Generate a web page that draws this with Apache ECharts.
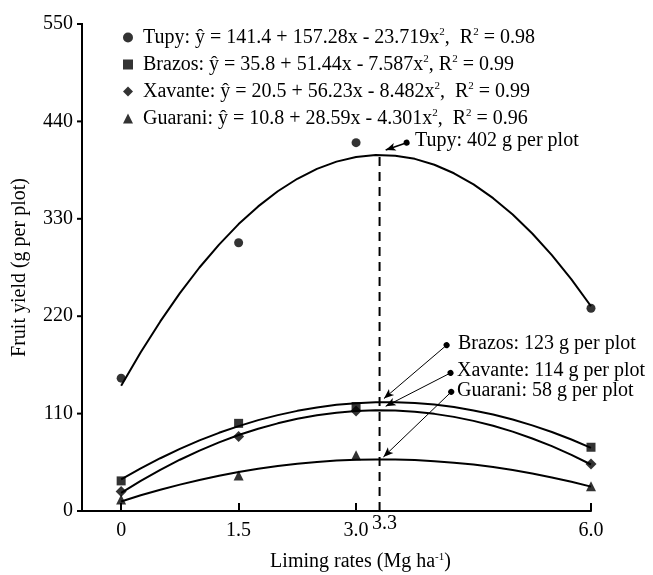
<!DOCTYPE html>
<html><head><meta charset="utf-8">
<script src="https://cdn.jsdelivr.net/npm/echarts@6/dist/echarts.min.js"></script>
<style>html,body{margin:0;padding:0;background:#fff;}#c{width:653px;height:575px;}</style>
</head><body><div id="c"></div>
<script>
// ---- data ----
const cultivars = ['Tupy', 'Brazos', 'Xavante', 'Guarani'];
const limingRates = [0, 1.5, 3.0, 6.0];
const tupyObs = [150, 303, 416, 229];
const brazosObs = [34, 99, 118, 72];
const xavanteObs = [22, 84, 113, 53];
const guaraniObs = [13, 40, 63, 28];
// fitted curves read along x = 0, 0.25, ..., 6
const curveX = [0, 0.25, 0.5, 0.75, 1, 1.25, 1.5, 1.75, 2, 2.25, 2.5, 2.75, 3, 3.25, 3.5, 3.75, 4, 4.25, 4.5, 4.75, 5, 5.25, 5.5, 5.75, 6];
const tupyFit = [141.4, 179.2, 214.1, 246.0, 275.0, 300.9, 324.0, 344.0, 361.1, 375.2, 386.4, 394.6, 399.8, 402.0, 401.3, 397.7, 391.0, 381.4, 368.9, 353.3, 334.8, 313.4, 288.9, 261.6, 231.2];
const brazosFit = [35.8, 48.2, 59.6, 70.1, 79.7, 88.3, 95.9, 102.6, 108.3, 113.1, 117.0, 119.9, 121.8, 122.8, 122.9, 122.0, 120.2, 117.4, 113.6, 109.0, 103.3, 96.7, 89.2, 80.7, 71.3];
const xavanteFit = [20.5, 34.0, 46.5, 57.9, 68.2, 77.5, 85.8, 92.9, 99.0, 104.1, 108.1, 111.0, 112.9, 113.7, 113.4, 112.1, 109.7, 106.3, 101.8, 96.2, 89.6, 81.9, 73.2, 63.4, 52.5];
const guaraniFit = [10.8, 17.7, 24.0, 29.8, 35.1, 39.8, 44.0, 47.7, 50.8, 53.4, 55.4, 56.9, 57.9, 58.3, 58.2, 57.5, 56.3, 54.6, 52.4, 49.6, 46.2, 42.4, 37.9, 33.0, 27.5];
const equations = [
  'Tupy: ŷ = 141.4 + 157.28x - 23.719x{s|2},  R{s|2} = 0.98',
  'Brazos: ŷ = 35.8 + 51.44x - 7.587x{s|2}, R{s|2} = 0.99',
  'Xavante: ŷ = 20.5 + 56.23x - 8.482x{s|2},  R{s|2} = 0.99',
  'Guarani: ŷ = 10.8 + 28.59x - 4.301x{s|2},  R{s|2} = 0.96'
];
const optimumRate = 3.3;
const peakValues = [402, 123, 114, 58];
const xTickValues = [0, 1.5, 3.0, 6.0];
const xTickLabels = ['0', '1.5', '3.0', '6.0'];
const yTicks = [0, 110, 220, 330, 440, 550];
const xRange = [-0.5, 6];
// annotation arrows: [startX, startY, endX, endY] in data units
const arrowTupy = [3.646, 416, 3.378, 407.6];
const arrowBrazos = [4.156, 187.3, 3.356, 127.0];
const arrowXavante = [4.206, 155.9, 3.378, 118.3];
const arrowGuarani = [4.215, 134.5, 3.349, 61.0];

// ---- build ----
const FONT = 'Liberation Serif';
const symbols = ['circle', 'rect', 'diamond', 'triangle'];
const symSizes = [9, 9, 11, 10];
const obs = [tupyObs, brazosObs, xavanteObs, guaraniObs];
const fits = [tupyFit, brazosFit, xavanteFit, guaraniFit];
const series = [];
cultivars.forEach((c, i) => {
  series.push({
    name: c + ' fit', type: 'line', smooth: false, showSymbol: false, silent: true,
    data: curveX.map((x, k) => [x, fits[i][k]]),
    lineStyle: { color: '#000', width: 2, join: 'round' }, itemStyle: { color: '#000' }, z: 2
  });
  series.push({
    name: c, type: 'scatter', symbol: symbols[i], symbolSize: symSizes[i],
    data: limingRates.map((x, k) => [x, obs[i][k]]),
    itemStyle: { color: '#000' }, z: 3
  });
});
const arrows = [arrowTupy, arrowBrazos, arrowXavante, arrowGuarani];
series.push({
  name: 'optimum', type: 'line', showSymbol: false, silent: true,
  data: [[optimumRate, 0], [optimumRate, peakValues[0]]],
  lineStyle: { color: '#000', width: 2, type: [9, 6] },
  markLine: {
    silent: true, animation: false,
    label: { show: false },
    data: arrows.map((a, i) => [
      { coord: [a[0], a[1]], symbol: 'circle', symbolSize: 6, lineStyle: { color: '#000', width: i === 0 ? 1.6 : 1, type: 'solid' } },
      { coord: [a[2], a[3]], symbol: 'arrow', symbolSize: [6, 10] }
    ])
  }
});
// y-axis line and outward ticks, drawn through the cartesian coordinate system
series.push({
  name: 'yAxisLine', type: 'custom', silent: true, clip: false, z: 5,
  data: yTicks.map(v => [xRange[0], v]),
  renderItem: (params, api) => {
    const p = api.coord([api.value(0), api.value(1)]);
    const children = [{
      type: 'line', shape: { x1: p[0] - 5, y1: p[1], x2: p[0], y2: p[1] },
      style: { stroke: '#000', lineWidth: 2 }
    }];
    if (params.dataIndex === 0) {
      const top = api.coord([xRange[0], yTicks[yTicks.length - 1]]);
      children.push({ type: 'line', shape: { x1: p[0], y1: p[1] + 1, x2: top[0], y2: top[1] - 1 },
        style: { stroke: '#000', lineWidth: 2 } });
    }
    return { type: 'group', children };
  }
});

const chart = echarts.init(document.getElementById('c'), null, { renderer: 'canvas' });
const axisText = { fontFamily: FONT, fontSize: 20, color: '#000' };
chart.setOption({
  animation: false,
  backgroundColor: '#fff',
  grid: { left: 82, right: 62, top: 24, bottom: 64, containLabel: false, outerBoundsMode: 'none' },
  legend: {
    orient: 'vertical', left: 118, top: 22, itemGap: 6,
    itemWidth: 10, itemHeight: 10,
    data: cultivars.map((c, i) => ({ name: c, icon: symbols[i] })),
    formatter: name => equations[cultivars.indexOf(name)],
    textStyle: {
      fontFamily: FONT, fontSize: 20, color: '#000', lineHeight: 21, padding: [0, 0, 0, 5],
      rich: { s: { fontFamily: FONT, fontSize: 11, lineHeight: 12, verticalAlign: 'top', color: '#000' } }
    },
    selectedMode: false
  },
  xAxis: {
    type: 'value', min: xRange[0], max: xRange[1],
    name: 'Liming rates (Mg ha{s|-1})', nameLocation: 'middle', nameGap: 41,
    nameTextStyle: Object.assign({}, axisText, { padding: [0, 0, 0, 48],
      rich: { s: { fontFamily: FONT, fontSize: 11, verticalAlign: 'top', lineHeight: 12, color: '#000' } } }),
    axisLine: { show: true, onZero: false, lineStyle: { color: '#000', width: 2 } },
    axisTick: { show: true, inside: true, length: 8, customValues: xTickValues, lineStyle: { color: '#000', width: 2 } },
    axisLabel: Object.assign({}, axisText, { margin: 10, customValues: xTickValues,
      formatter: v => { const k = xTickValues.indexOf(v); return k >= 0 ? xTickLabels[k] : ''; } }),
    splitLine: { show: false }
  },
  yAxis: {
    type: 'value', min: yTicks[0], max: yTicks[yTicks.length - 1], interval: 110,
    name: 'Fruit yield (g per plot)', nameLocation: 'middle', nameGap: 52,
    nameTextStyle: axisText,
    axisLine: { show: false, onZero: false },
    axisTick: { show: false },
    axisLabel: Object.assign({}, axisText, { margin: 9 }),
    splitLine: { show: false }
  },
  series: series,
  graphic: [
    { type: 'text', left: 415, top: 131, style: { text: 'Tupy: ' + peakValues[0] + ' g per plot', font: '20px "Liberation Serif"', fill: '#000' } },
    { type: 'text', left: 458, top: 334, style: { text: 'Brazos: ' + peakValues[1] + ' g per plot', font: '20px "Liberation Serif"', fill: '#000' } },
    { type: 'text', left: 457, top: 361, style: { text: 'Xavante: ' + peakValues[2] + ' g per plot', font: '20px "Liberation Serif"', fill: '#000' } },
    { type: 'text', left: 457, top: 381, style: { text: 'Guarani: ' + peakValues[3] + ' g per plot', font: '20px "Liberation Serif"', fill: '#000' } },
    { type: 'text', left: 372, top: 514, style: { text: String(optimumRate), font: '20px "Liberation Serif"', fill: '#000' } }
  ]
});
</script></body></html>
